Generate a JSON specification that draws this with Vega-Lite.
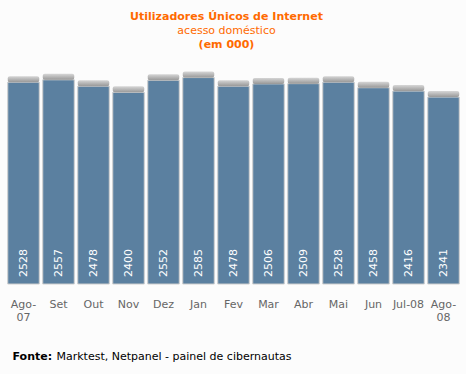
{
  "$schema": "https://vega.github.io/schema/vega-lite/v6.json",
  "autosize": {"type": "none"},
  "padding": {"left": 6, "top": 70, "right": 5, "bottom": 90},
  "width": 455,
  "height": 214,
  "background": "#fcfcfc",
  "title": {
    "text": "Utilizadores Únicos de Internet",
    "subtitle": "acesso doméstico",
    "anchor": "middle",
    "frame": "group",
    "dx": -7,
    "offset": 2,
    "color": "#ff6a00",
    "subtitleColor": "#ff6a00",
    "font": "DejaVu Sans",
    "subtitleFont": "DejaVu Sans",
    "fontSize": 11,
    "subtitleFontSize": 11,
    "fontWeight": "bold",
    "subtitleFontWeight": "normal",
    "subtitlePadding": 3
  },
  "config": {
    "view": {"stroke": null},
    "axis": {"grid": false, "domain": false, "ticks": false, "tickSize": 0}
  },
  "data": {
    "values": [
      {"mes": "Ago-07", "valor": 2528},
      {"mes": "Set", "valor": 2557},
      {"mes": "Out", "valor": 2478},
      {"mes": "Nov", "valor": 2400},
      {"mes": "Dez", "valor": 2552},
      {"mes": "Jan", "valor": 2585},
      {"mes": "Fev", "valor": 2478},
      {"mes": "Mar", "valor": 2506},
      {"mes": "Abr", "valor": 2509},
      {"mes": "Mai", "valor": 2528},
      {"mes": "Jun", "valor": 2458},
      {"mes": "Jul-08", "valor": 2416},
      {"mes": "Ago-08", "valor": 2341}
    ]
  },
  "resolve": {"axis": {"x": "independent"}},
  "layer": [
    {
      "mark": {"type": "bar", "color": "#5b80a0", "stroke": "#cdcdcd", "strokeWidth": 1},
      "encoding": {
        "x": {
          "field": "mes", "type": "nominal", "sort": null,
          "scale": {"paddingInner": 0.1, "paddingOuter": 0.05},
          "axis": {
            "orient": "bottom",
            "labelAngle": 0,
            "labelFont": "DejaVu Sans",
            "labelFontSize": 11,
            "labelColor": "#666666",
            "labelPadding": 14,
            "labelLineHeight": 13,
            "labelExpr": "indexof(datum.label, 'Ago-') == 0 ? [slice(datum.label, 0, 4), slice(datum.label, 4)] : datum.label",
            "title": "Fonte:",
            "titleFont": "DejaVu Sans",
            "titleFontSize": 11,
            "titleFontWeight": "bold",
            "titleColor": "#000000",
            "titleAlign": "left",
            "titleBaseline": "alphabetic",
            "titleAnchor": "start",
            "titleX": 6,
            "titleY": 75
          }
        },
        "y": {
          "field": "valor", "type": "quantitative",
          "scale": {"domain": [0, 2680], "nice": false},
          "axis": null
        }
      }
    },
    {
      "mark": {
        "type": "tick",
        "size": 31.5,
        "thickness": 6,
        "yOffset": -3,
        "cornerRadius": 2,
        "opacity": 1,
        "color": {
          "gradient": "linear", "x1": 0, "y1": 0, "x2": 0, "y2": 1,
          "stops": [
            {"offset": 0, "color": "#d6d6d6"},
            {"offset": 1, "color": "#989898"}
          ]
        }
      },
      "encoding": {
        "x": {
          "field": "mes", "type": "nominal", "sort": null,
          "axis": {
            "orient": "bottom",
            "labels": false,
            "title": "Marktest, Netpanel - painel de cibernautas",
            "titleFont": "DejaVu Sans",
            "titleFontSize": 11,
            "titleFontWeight": "normal",
            "titleColor": "#000000",
            "titleAlign": "left",
            "titleBaseline": "alphabetic",
            "titleAnchor": "start",
            "titleLimit": 1000,
            "titleX": 50,
            "titleY": 75
          }
        },
        "y": {"field": "valor", "type": "quantitative", "axis": null}
      }
    },
    {
      "mark": {
        "type": "text",
        "angle": 270,
        "align": "left",
        "baseline": "middle",
        "dx": 7,
        "font": "DejaVu Sans",
        "fontSize": 11,
        "color": "#ffffff"
      },
      "encoding": {
        "x": {
          "field": "mes", "type": "nominal", "sort": null,
          "axis": {
            "orient": "top",
            "labels": false,
            "title": "(em 000)",
            "titleFont": "DejaVu Sans",
            "titleFontSize": 11,
            "titleFontWeight": "bold",
            "titleColor": "#ff6a00",
            "titleAlign": "center",
            "titleBaseline": "alphabetic",
            "titleX": 220,
            "titleY": -23
          }
        },
        "y": {"datum": 0, "type": "quantitative", "axis": null},
        "text": {"field": "valor", "type": "quantitative"}
      }
    }
  ]
}
